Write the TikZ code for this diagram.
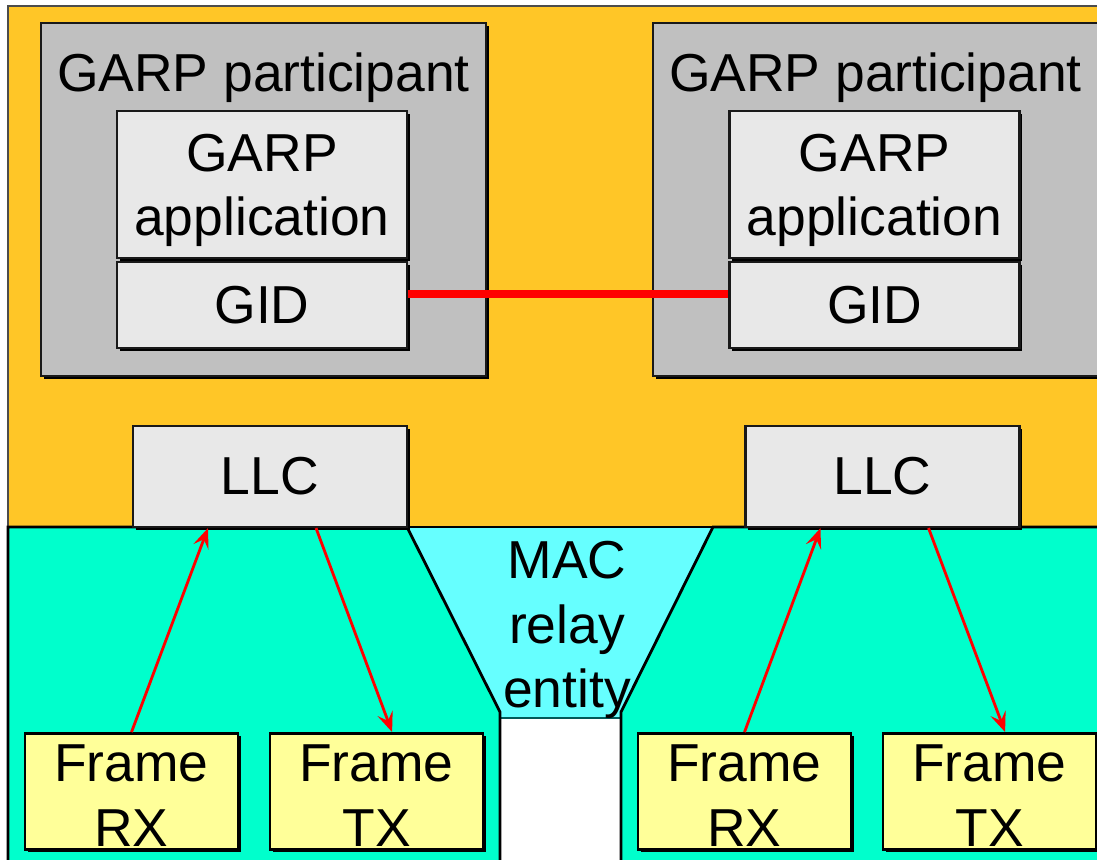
\documentclass[tikz,border=0pt]{standalone}
\usepackage{fontspec}
\setmainfont{Liberation Sans}
\usetikzlibrary{positioning,shadows,arrows.meta}
\definecolor{llcorange}{HTML}{FFC627}
\definecolor{macgreen}{HTML}{00FFCC}
\definecolor{relaycyan}{HTML}{66FFFF}
\definecolor{frameyellow}{HTML}{FFFF99}
\definecolor{partgray}{HTML}{C0C0C0}
\definecolor{boxgray}{HTML}{E8E8E8}
\tikzset{
  shadebox/.style={draw=black!90,line width=1.5pt,inner sep=0pt,align=center,
    drop shadow={shadow xshift=0.07cm,shadow yshift=-0.07cm,fill=black,opacity=1}},
  partbox/.style={shadebox,fill=partgray,minimum width=11.125cm,minimum height=8.825cm},
  appbox/.style={shadebox,fill=boxgray,minimum width=7.25cm,minimum height=3.675cm},
  gidbox/.style={shadebox,fill=boxgray,minimum width=7.25cm,minimum height=2.15cm},
  llcbox/.style={shadebox,fill=boxgray,minimum width=6.85cm,minimum height=2.525cm},
  framebox/.style={shadebox,fill=frameyellow,draw=black,line width=2pt,minimum width=5.325cm,minimum height=2.9cm},
  frameflow/.style={draw=red,line width=2pt,-{Stealth[length=0.5cm,width=0.4cm,inset=0.2cm]}},
  gidlink/.style={draw=red,line width=6pt}
}

\begin{document}
\begin{tikzpicture}[x=0.025cm,y=-0.025cm,every node/.style={font=\fontsize{38}{46}\selectfont,align=center}]
        \clip (0,0) rectangle (1097,860);
        \fill[white] (0,0) rectangle (1097,860);
        \draw[fill=llcorange,draw=black!70,line width=1.5pt] (8,6) rectangle (1120,527);
        \fill[relaycyan] (407,527) -- (713,527) -- (621,712) -- (621,718) -- (500,718) -- (500,712) -- cycle;
        \draw[teal!70!black,line width=1.5pt] (500,718) -- (621,718);
        \draw[fill=macgreen,line width=2pt] (8,527) -- (407,527) -- (500,712) -- (500,880) -- (8,880) -- cycle;
        \draw[fill=macgreen,line width=2pt] (713,527) -- (1120,527) -- (1120,880) -- (621,880) -- (621,712) -- cycle;
        \draw[line width=2pt] (8,527) -- (1120,527);
        \node[partbox] (part1) at (263.5,199.5) {};
        \node[partbox] (part2) at (875.5,199.5) {};
        \node[anchor=base] (title1) at (263.5,92) {GARP participant};
        \node[anchor=base] (title2) at (875.5,92) {GARP participant};
        \node[appbox,label={[yshift=-0.15cm]center:GARP\\application}] (app1) at (262,184.5) {};
        \node[gidbox,below=0.05cm of app1] (gid1) {GID};
        \node[appbox,label={[yshift=-0.15cm]center:GARP\\application}] (app2) at (874.5,184.5) {};
        \node[gidbox,below=0.05cm of app2] (gid2) {GID};
        \draw[gidlink] ([yshift=0.275cm]gid1.east) -- ([yshift=0.275cm]gid2.west);
        \node[llcbox] (llc1) at (270,476.5) {LLC};
        \node[llcbox] (llc2) at (882.5,476.5) {LLC};
        \node[framebox,label={[yshift=-0.11cm]center:Frame\\RX}] (rx1) at (131.5,791.5) {};
        \node[framebox,label={[yshift=-0.11cm]center:Frame\\TX}] (tx1) at (376.5,791.5) {};
        \node[framebox,label={[yshift=-0.11cm]center:Frame\\RX}] (rx2) at (744.5,791.5) {};
        \node[framebox,label={[yshift=-0.11cm]center:Frame\\TX}] (tx2) at (989.5,791.5) {};
        \draw[frameflow] (rx1.north) -- ([xshift=-1.55cm]llc1.south);
        \draw[frameflow] ([xshift=1.15cm]llc1.south) -- ([xshift=0.39cm]tx1.north);
        \draw[frameflow] (rx2.north) -- ([xshift=-1.55cm]llc2.south);
        \draw[frameflow] ([xshift=1.15cm]llc2.south) -- ([xshift=0.39cm]tx2.north);
        \node (relay) at (567,630) {MAC\\relay\\entity};
    \end{tikzpicture}
\end{document}
